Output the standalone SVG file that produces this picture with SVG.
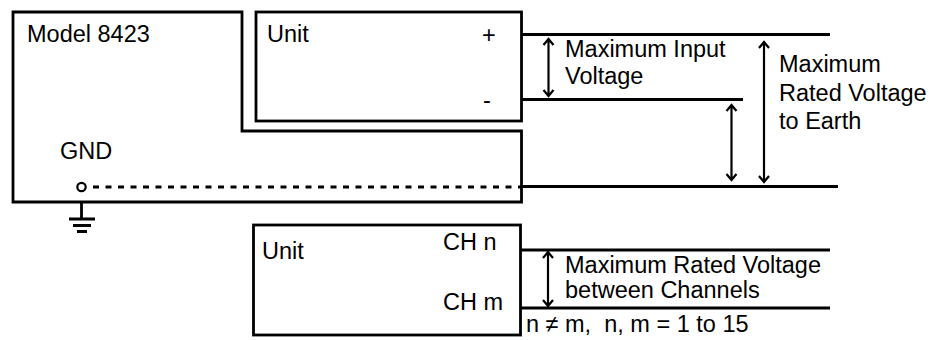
<svg xmlns="http://www.w3.org/2000/svg" width="940" height="340" viewBox="0 0 940 340">
<style>
.box{fill:none;stroke:#000;stroke-width:2.8}
.ln{fill:none;stroke:#000;stroke-width:2.8}
.ar{fill:none;stroke:#000;stroke-width:2.2}
.t{font-family:"Liberation Sans",Arial,sans-serif;font-size:23.5px;fill:#000;white-space:pre}
</style>
<rect width="940" height="340" fill="#fff"/>
<g id="model8423">
<path class="box" d="M13,12 H242 V131 H521.5 V202 H13 Z"/>
<text class="t" x="27" y="42">Model 8423</text>
<text class="t" x="60" y="159">GND</text>
<circle cx="81.5" cy="187" r="4.2" fill="#fff" stroke="#000" stroke-width="2.2"/>
</g>
<g id="ground">
<path class="ln" d="M81.5,203 V219 M69,219 H95 M73,225.5 H91 M77,231.5 H87"/>
</g>
<g id="unit-top">
<rect class="box" x="256" y="12" width="265.5" height="109"/>
<text class="t" x="267" y="42">Unit</text>
<text class="t" x="482" y="43">+</text>
<text class="t" x="483" y="108">-</text>
</g>
<g id="unit-bottom">
<rect class="box" x="253.5" y="225" width="267" height="110"/>
<text class="t" x="262" y="259">Unit</text>
<text class="t" x="443" y="250">CH n</text>
<text class="t" x="443" y="310">CH m</text>
</g>
<g id="connectors">
<path class="ln" d="M521.5,34.5 H830 M521.5,99.5 H743 M521.5,186.5 H838 M520.5,250 H830 M520.5,308 H830"/>
<path class="ln" d="M93,187 H521" stroke-dasharray="6 6.5"/>
<path class="ar" d="M548.5,39 V96 M543.5,45 L548.5,39 L553.5,45 M543.5,90 L548.5,96 L553.5,90"/>
<path class="ar" d="M731.5,105 V180 M726.5,111 L731.5,105 L736.5,111 M726.5,174 L731.5,180 L736.5,174"/>
<path class="ar" d="M764,42 V182 M759,48 L764,42 L769,48 M759,176 L764,182 L769,176"/>
<path class="ar" d="M548,252 V306 M543,258 L548,252 L553,258 M543,300 L548,306 L553,300"/>
</g>
<g id="labels">
<text class="t" x="565" y="57">Maximum Input</text>
<text class="t" x="565" y="84">Voltage</text>
<text class="t" x="779" y="72">Maximum</text>
<text class="t" x="779" y="100.5">Rated Voltage</text>
<text class="t" x="779" y="129">to Earth</text>
<text class="t" x="565" y="273">Maximum Rated Voltage</text>
<text class="t" x="565" y="298">between Channels</text>
<text class="t" x="526" y="332">n ≠ m,  n, m = 1 to 15</text>
</g>
</svg>
